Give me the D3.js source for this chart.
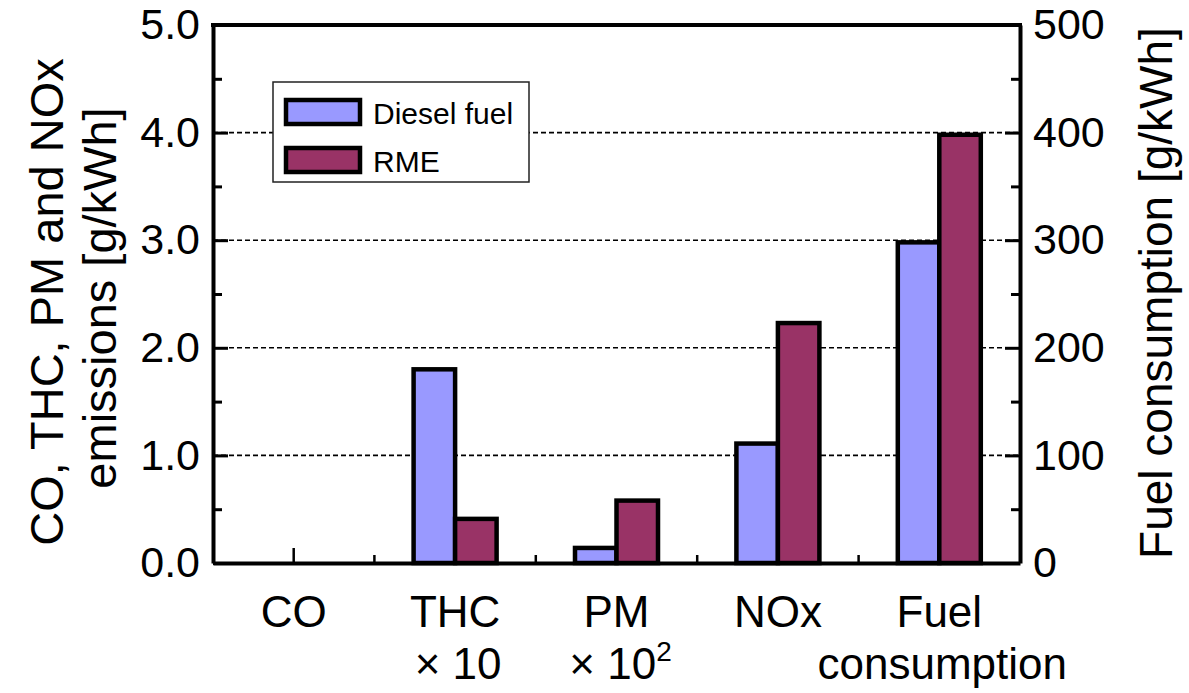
<!DOCTYPE html>
<html><head><meta charset="utf-8">
<script src="https://cdn.jsdelivr.net/npm/d3@7"></script>
<style>body{margin:0;background:#fff} svg{display:block} text{font-family:"Liberation Sans",Arial,sans-serif;fill:#000}</style>
</head><body><svg id="c" width="1189" height="693"></svg>
<script>
const categories = ["CO","THC","PM","NOx","Fuel"];
const labelLine1 = ["CO","THC","PM","NOx","Fuel"];
const labelLine2 = ["", "× 10", "× 10", "", "consumption"];
const labelSup = ["", "", "2", "", ""];
const axisOf = ["left","left","left","left","right"];
const series = ["Diesel fuel","RME"];
const dieselValues = [0, 1.80, 0.14, 1.11, 298];
const rmeValues = [0, 0.41, 0.58, 2.23, 398];
const leftTicks = [0,1,2,3,4,5];
const leftMinor = [0.5,1.5,2.5,3.5,4.5];
const rightTicks = [0,100,200,300,400,500];
const rightMinor = [50,150,250,350,450];
const gridValues = [1,2,3,4];
const colors = ["#9999FF","#993366"];

const L=213, R=1020, T=25, B=563;
const svg = d3.select("#c");
const x = d3.scaleBand().domain(categories).range([L,R]).padding(0);
const xs = d3.scaleBand().domain(series).range([-41.5,41.5]);
const yL = d3.scaleLinear().domain([0,5]).range([B,T]);
const yR = d3.scaleLinear().domain([0,500]).range([B,T]);
const color = d3.scaleOrdinal().domain(series).range(colors);

// gridlines
svg.append("g").selectAll("line").data(gridValues).join("line")
  .attr("x1",L).attr("x2",R).attr("y1",d=>yL(d)).attr("y2",d=>yL(d))
  .attr("stroke","#000").attr("stroke-width",1.6).attr("stroke-dasharray","5,3");

// bars
const rows = categories.map((c,i)=>({c, scale: axisOf[i]==="right"?yR:yL,
  vals: series.map((s,j)=>({s, v: j===0?dieselValues[i]:rmeValues[i]}))}));
const bg = svg.append("g");
rows.forEach(r=>{
  bg.selectAll(null).data(r.vals.filter(d=>d.v>0)).join("rect")
    .attr("x",d=>x(r.c)+x.bandwidth()/2+xs(d.s))
    .attr("width",xs.bandwidth())
    .attr("y",d=>r.scale(d.v))
    .attr("height",d=>B-r.scale(d.v))
    .attr("fill",d=>color(d.s))
    .attr("stroke","#000").attr("stroke-width",4.5);
});

// axes
function styleAxis(g){
  g.selectAll(".domain").attr("stroke","#000").attr("stroke-width",4);
  g.selectAll(".tick line").attr("stroke","#000").attr("stroke-width",3);
  g.selectAll(".tick text").attr("font-size",43).attr("font-family",'"Liberation Sans",Arial,sans-serif').attr("fill","#000");
}
svg.append("g").attr("transform",`translate(${L},0)`)
  .call(d3.axisLeft(yL).tickValues(leftTicks).tickFormat(d3.format(".1f")).tickSizeInner(-15).tickSizeOuter(0).tickPadding(13))
  .call(styleAxis);
svg.append("g").attr("transform",`translate(${L},0)`)
  .call(d3.axisLeft(yL).tickValues(leftMinor).tickFormat("").tickSizeInner(-9).tickSizeOuter(0))
  .call(styleAxis).select(".domain").remove();
svg.append("g").attr("transform",`translate(${R},0)`)
  .call(d3.axisRight(yR).tickValues(rightTicks).tickFormat(d3.format("d")).tickSizeInner(-15).tickSizeOuter(0).tickPadding(13))
  .call(styleAxis);
svg.append("g").attr("transform",`translate(${R},0)`)
  .call(d3.axisRight(yR).tickValues(rightMinor).tickFormat("").tickSizeInner(-9).tickSizeOuter(0))
  .call(styleAxis).select(".domain").remove();
// bottom axis
const bx = svg.append("g").attr("transform",`translate(0,${B})`)
  .call(d3.axisBottom(x).tickFormat("").tickSizeInner(-15).tickSizeOuter(0))
  .call(styleAxis);
bx.selectAll(".tick line").attr("stroke-width",2.5);
svg.append("g").selectAll("line").data(categories.slice(1)).join("line")
  .attr("x1",d=>x(d)).attr("x2",d=>x(d)).attr("y1",B).attr("y2",B-8)
  .attr("stroke","#000").attr("stroke-width",2.5);
// top border
svg.append("line").attr("x1",L-2).attr("x2",R+2).attr("y1",T).attr("y2",T)
  .attr("stroke","#000").attr("stroke-width",4);

// category labels
const lab = svg.append("g").attr("font-size",44).attr("text-anchor","middle");
categories.forEach((c,i)=>{
  const cx = x(c)+x.bandwidth()/2;
  lab.append("text").attr("x",cx).attr("y",627).text(labelLine1[i]);
  if(labelLine2[i]){
    const t = lab.append("text").attr("x",cx+(labelSup[i]?4:3)).attr("y",679);
    t.append("tspan").text(labelLine2[i]);
    if(labelSup[i]) t.append("tspan").attr("font-size",28).attr("dy",-18).text(labelSup[i]);
  }
});

// axis titles
svg.append("text").attr("transform","translate(63,302) rotate(-90)").attr("text-anchor","middle")
  .attr("font-size",47).text("CO, THC, PM and NOx");
svg.append("text").attr("transform","translate(116,298) rotate(-90)").attr("text-anchor","middle")
  .attr("font-size",47).text("emissions [g/kWh]");
svg.append("text").attr("transform","translate(1172,293) rotate(-90)").attr("text-anchor","middle")
  .attr("font-size",46).text("Fuel consumption [g/kWh]");

// legend
const lg = svg.append("g");
lg.append("rect").attr("x",273).attr("y",82).attr("width",256).attr("height",100)
  .attr("fill","#fff").attr("stroke","#222").attr("stroke-width",1.5);
const items = lg.selectAll("g.item").data(series).join("g").attr("class","item")
  .attr("transform",(d,i)=>`translate(0,${i*48})`);
items.append("rect").attr("x",286).attr("y",100).attr("width",74).attr("height",24)
  .attr("fill",d=>color(d)).attr("stroke","#000").attr("stroke-width",4.5);
items.append("text").attr("x",373).attr("y",124).attr("font-size",30).text(d=>d);
</script></body></html>
